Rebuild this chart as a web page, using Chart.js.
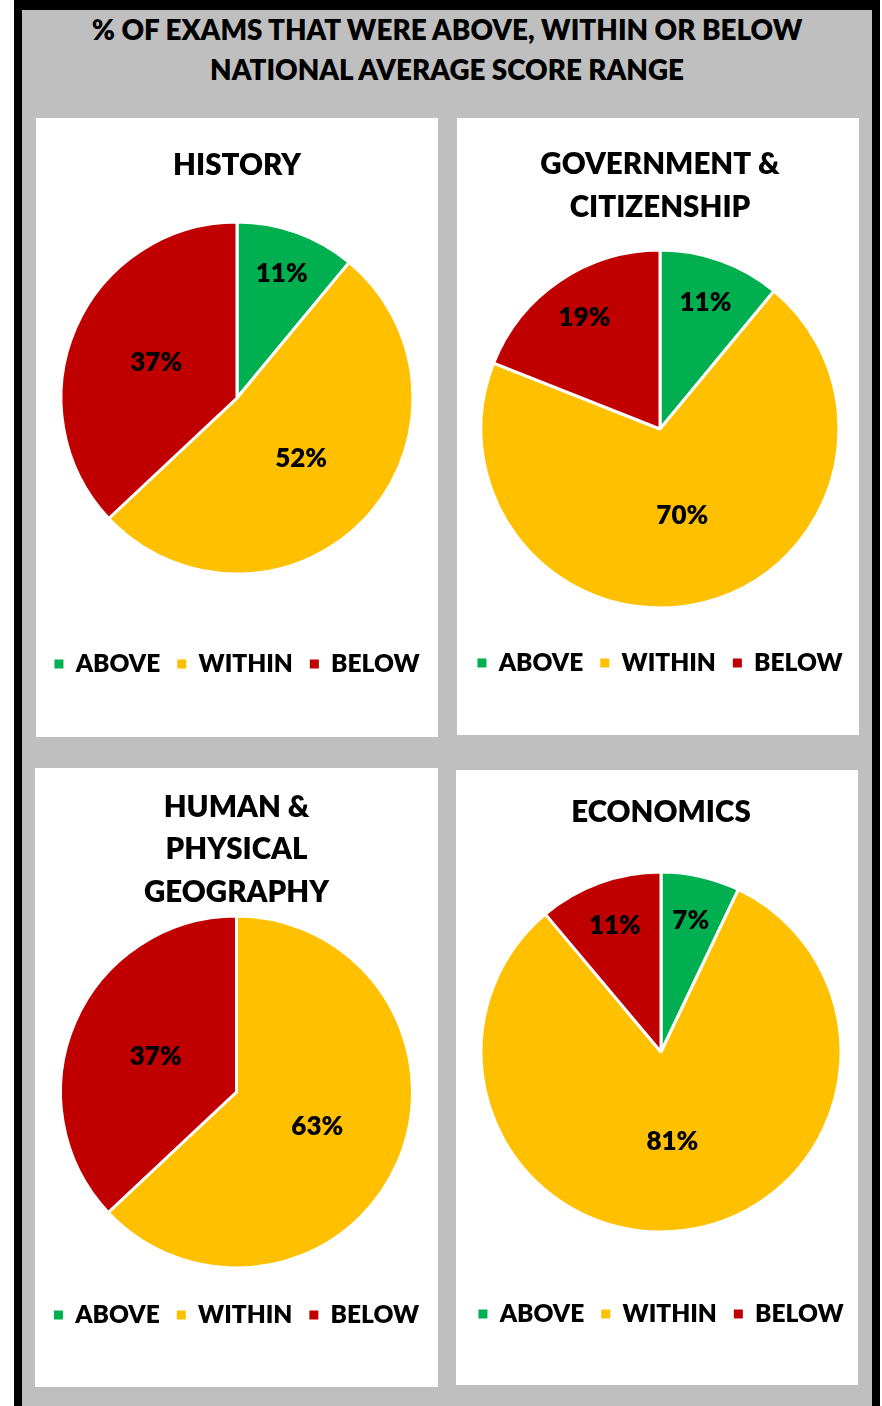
<!DOCTYPE html>
<html>
<head>
<meta charset="utf-8">
<script src="https://cdn.jsdelivr.net/npm/chart.js@4.4.1/dist/chart.umd.min.js"></script>
<style>
  html, body { margin: 0; padding: 0; width: 882px; height: 1406px; overflow: hidden; background: #ffffff; }
  #frame { position: absolute; left: 14px; top: 0px; width: 850px; height: 1404px; border: 8px solid #000; border-top-width: 10px; border-bottom-width: 8px; background: #bfbfbf; box-sizing: content-box; }
  #heading { position: absolute; left: 14px; top: 10px; width: 866px; text-align: center; font-family: Lato, 'Open Sans', sans-serif; font-weight: 800; font-size: 27.8px; line-height: 40px; color: #000; }
  .panel { position: absolute; background: #fff; }
  .panel canvas { position: absolute; top: 0; }
</style>
</head>
<body>
<div id="frame"></div>
<div id="heading">% OF EXAMS THAT WERE ABOVE, WITHIN OR BELOW<br>NATIONAL AVERAGE SCORE RANGE</div>
<div class="panel" style="left:36px;top:118px;width:402px;height:619px;"><canvas id="c1" width="402" height="619" style="left:0px"></canvas></div>
<div class="panel" style="left:457px;top:118px;width:402px;height:617px;"><canvas id="c2" width="402" height="617" style="left:2px"></canvas></div>
<div class="panel" style="left:35px;top:768px;width:403px;height:619px;"><canvas id="c3" width="403" height="619" style="left:0px"></canvas></div>
<div class="panel" style="left:456px;top:770px;width:402px;height:615px;"><canvas id="c4" width="402" height="615" style="left:4px"></canvas></div>
<script>
const categories = ['ABOVE', 'WITHIN', 'BELOW'];
const historyTitle = ['HISTORY'];
const historyValues = [11, 52, 37];
const governmentTitle = ['GOVERNMENT &', 'CITIZENSHIP'];
const governmentValues = [11, 70, 19];
const geographyTitle = ['HUMAN &', 'PHYSICAL', 'GEOGRAPHY'];
const geographyValues = [0, 63, 37];
const economicsTitle = ['ECONOMICS'];
const economicsValues = [7, 81, 11];
const sliceColors = ['#00b050', '#ffc000', '#c00000'];

const FONT = 'Lato, "Open Sans", sans-serif';
const WEIGHT = '800';
Chart.defaults.font.family = FONT;
Chart.defaults.color = '#000';

const pieLabels = {
  id: 'pieLabels',
  afterDatasetsDraw(chart) {
    const ctx = chart.ctx;
    const meta = chart.getDatasetMeta(0);
    const data = chart.data.datasets[0].data;
    ctx.save();
    ctx.font = WEIGHT + ' 26px ' + FONT;
    ctx.fillStyle = '#000';
    ctx.textAlign = 'center';
    ctx.textBaseline = 'middle';
    meta.data.forEach((arc, i) => {
      const v = data[i];
      if (!v) return;
      const p = arc.getProps(['x', 'y', 'startAngle', 'endAngle', 'outerRadius'], true);
      const mid = (p.startAngle + p.endAngle) / 2;
      const f = v <= 20 ? 0.75 : 0.5;
      const r = p.outerRadius * f;
      ctx.fillText(v + '%', p.x + Math.cos(mid) * r, p.y + Math.sin(mid) * r);
    });
    ctx.restore();
  }
};

function makePie(id, title, values, cfg) {
  new Chart(document.getElementById(id), {
    type: 'pie',
    data: {
      labels: categories,
      datasets: [{
        data: values,
        backgroundColor: sliceColors,
        borderColor: '#ffffff',
        borderWidth: 3,
        radius: cfg.radius
      }]
    },
    options: {
      responsive: false,
      animation: false,
      layout: { padding: { top: 0, left: 0, right: 0, bottom: cfg.legendBottom } },
      plugins: {
        title: {
          display: true,
          text: title,
          color: '#000',
          font: { size: 29.5, weight: WEIGHT, family: FONT, lineHeight: cfg.lineHeight },
          padding: { top: cfg.titleTop, bottom: cfg.titleBottom }
        },
        legend: {
          display: true,
          position: 'bottom',
          labels: {
            color: '#000',
            font: { size: 24.5, weight: WEIGHT, family: FONT },
            usePointStyle: true,
            pointStyle: 'rect',
            boxWidth: 9,
            boxHeight: 12,
            padding: 17
          }
        },
        tooltip: { enabled: false }
      }
    },
    plugins: [pieLabels]
  });
}

makePie('c1', historyTitle, historyValues, { radius: 176, legendBottom: 50.75, lineHeight: '35px', titleTop: 29.5, titleBottom: -21.25 });
makePie('c2', governmentTitle, governmentValues, { radius: 179, legendBottom: 49.75, lineHeight: '43px', titleTop: 24.5, titleBottom: -4.25 });
makePie('c3', geographyTitle, geographyValues, { radius: 176, legendBottom: 49.75, lineHeight: '42.5px', titleTop: 17.75, titleBottom: -15 });
makePie('c4', economicsTitle, economicsValues, { radius: 180, legendBottom: 48.75, lineHeight: '35px', titleTop: 24.5, titleBottom: -10.25 });
</script>
</body>
</html>
